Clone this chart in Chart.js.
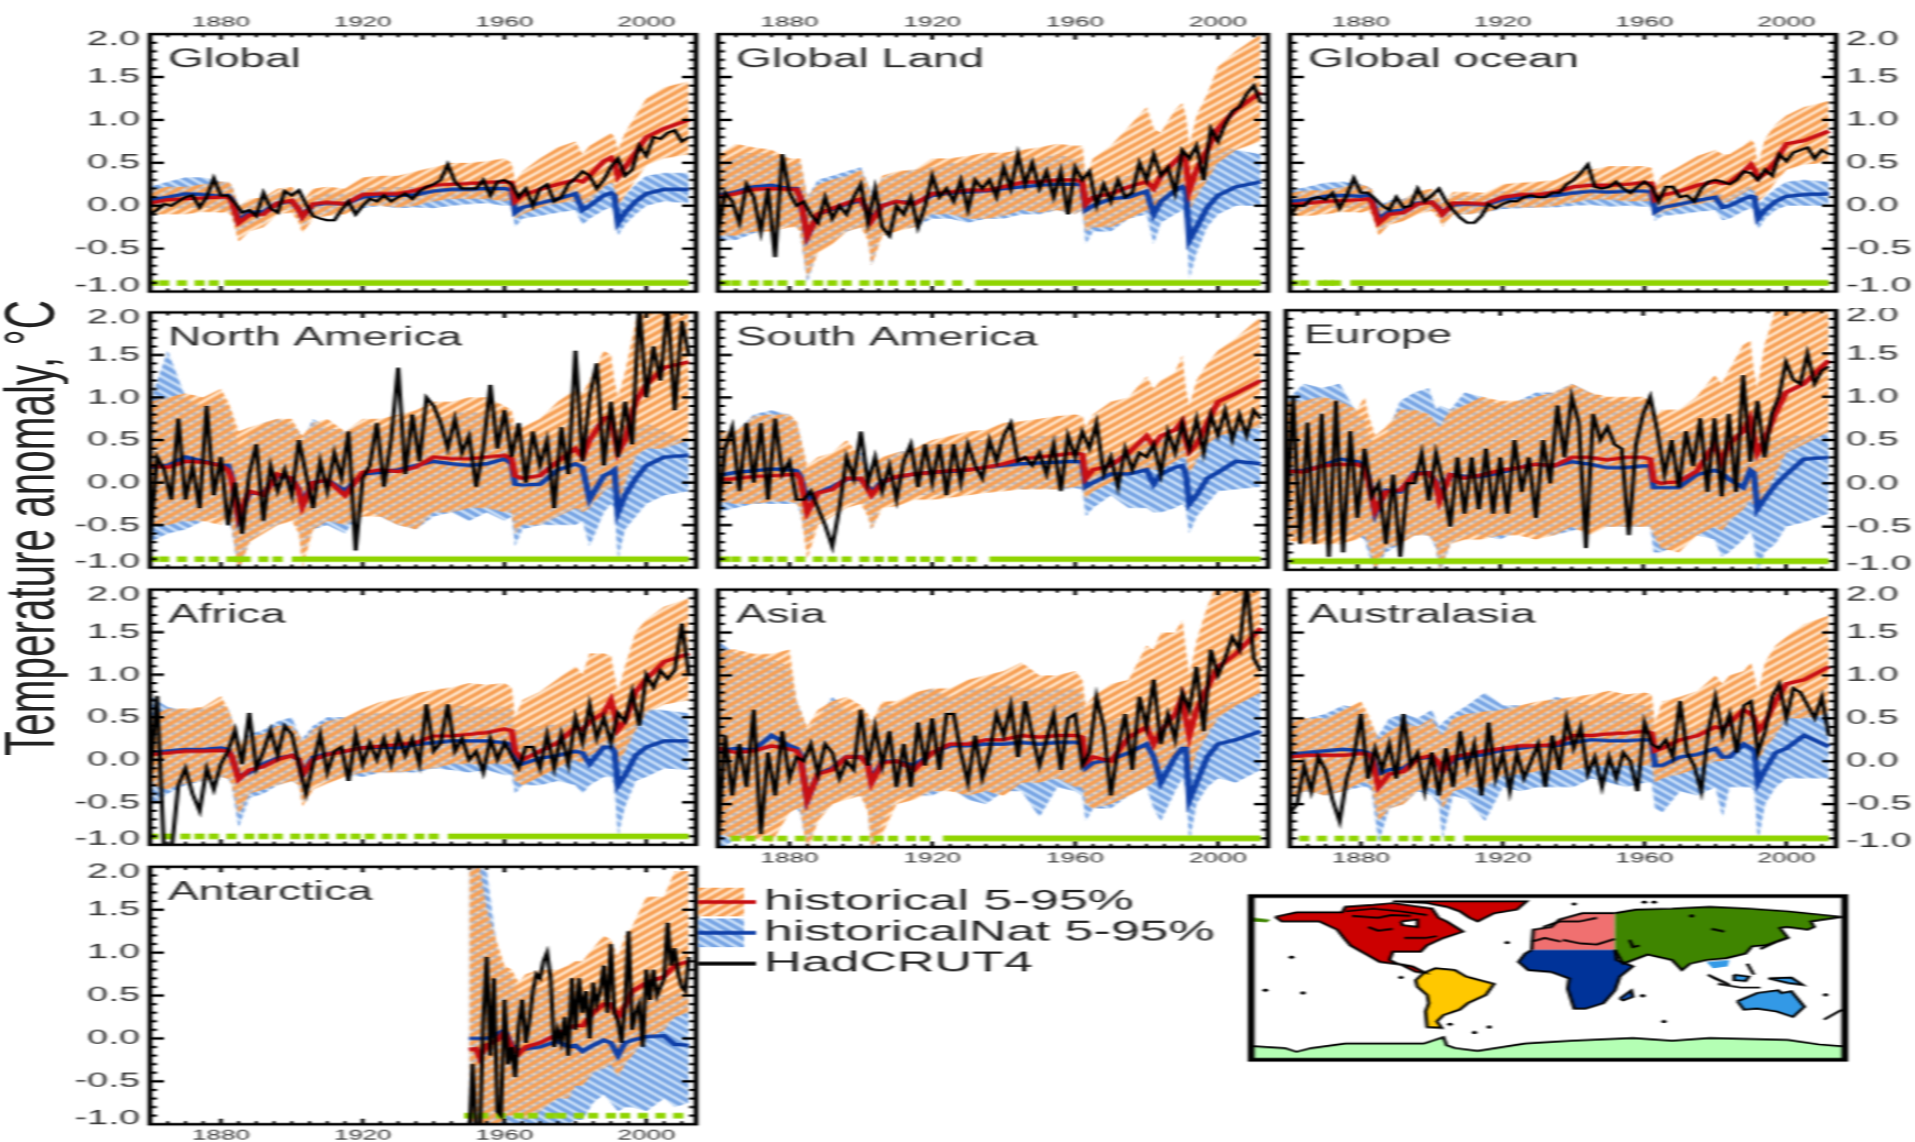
<!DOCTYPE html>
<html><head><meta charset="utf-8">
<script src="https://cdn.jsdelivr.net/npm/chart.js@4"></script>
<style>
html,body{margin:0;padding:0;background:#fff;overflow:hidden;width:1915px;height:1142px}
#stage{position:absolute;left:0;top:0;width:957.5px;height:1038.2px;transform:scale(2,1.1);transform-origin:0 0;filter:blur(.45px)}
#stage canvas{position:absolute}
#ytitle{position:absolute;left:-195.5px;top:459.5px;width:420px;height:40px;text-align:center;font:35px/40px "Liberation Sans",Arial,sans-serif;color:#222;transform:rotate(-90deg) scaleX(1.05);white-space:nowrap}
</style></head><body><div id="stage"><div id="ytitle">Temperature anomaly, °C</div></div>
<script>
// ---------- axis values
const xMajor=[1880,1920,1960,2000];
const xMinor=[1865,1870,1875,1885,1890,1895,1900,1905,1910,1915,1925,1930,1935,1940,1945,1950,1955,1965,1970,1975,1980,1985,1990,1995,2005,2010];
const yMajor=[-0.5,0,0.5,1,1.5];
const yMinor=[-0.9,-0.8,-0.7,-0.6,-0.4,-0.3,-0.2,-0.1,0.1,0.2,0.3,0.4,0.6,0.7,0.8,0.9,1.1,1.2,1.3,1.4,1.6,1.7,1.8,1.9];
const coverageLevel=-0.9;
// ---------- years of the model series and observations
const modelYears=[1860,1865,1870,1875,1880,1882,1883,1885,1888,1892,1896,1900,1902,1903,1906,1910,1915,1920,1925,1930,1935,1940,1945,1950,1955,1960,1962,1963,1965,1970,1975,1980,1982,1984,1988,1990,1991,1992,1994,1997,2000,2005,2012];
const obsYears=[1860,1862,1864,1866,1868,1870,1872,1874,1876,1878,1880,1882,1884,1886,1888,1890,1892,1894,1896,1898,1900,1902,1904,1906,1908,1910,1912,1914,1916,1918,1920,1922,1924,1926,1928,1930,1932,1934,1936,1938,1940,1942,1944,1946,1948,1950,1952,1954,1956,1958,1960,1962,1964,1966,1968,1970,1972,1974,1976,1978,1980,1982,1984,1986,1988,1990,1992,1994,1996,1998,2000,2002,2004,2006,2008,2010,2012];
const antModelYears=[1950,1952,1953,1955,1958,1960,1962,1964,1966,1970,1975,1978,1980,1982,1985,1988,1990,1992,1994,1996,2000,2005,2008,2012];
const antObsYears=[1950,1951,1952,1953,1954,1955,1956,1957,1958,1959,1960,1961,1962,1963,1964,1965,1966,1967,1968,1969,1970,1971,1972,1973,1974,1975,1976,1977,1978,1979,1980,1981,1982,1983,1984,1985,1986,1987,1988,1989,1990,1991,1992,1993,1994,1995,1996,1997,1998,1999,2000,2001,2002,2003,2004,2005,2006,2007,2008,2009,2010,2011,2012];
// ---------- Global
const globalHist=[.03,.07,.08,.09,.10,.10, .06,-.20,-.11,-.10,.03,.06,-.05,-.13,.02,.04, .02,.13,.14,.14,.18,.24,.25,.26,.27,.28, .27,.05,.12,.19,.25,.30, .28,.35,.52,.56,.50,.34,.45,.62,.80,.90,1.00];
const globalNat=[.07,.10,.14,.13,.11,.12, .08,-.17,-.08,-.07,.03,.05,-.04,-.12,.01,.03, .02,.10,.12,.12,.13,.17,.19,.19,.20,.20, .18,-.08,-.02,.03,.08,.14, -.05,.00,.12,.15,.12,-.20,-.08,.05,.14,.19,.19];
const globalHistLow=[-.10,-.10,-.10,-.07,-.08,-.08, -.12,-.42,-.30,-.25,-.10,-.08,-.20,-.32,-.15,-.12, -.10,.0,.0,-.02,.0,.05,.08,.08,.08,.05, .08,-.15,-.10,-.02,.03,.05, .02,.05,.22,.27,.20,.0,.12,.30,.47,.55,.60];
const globalHistHigh=[.18,.22,.22,.25,.28,.28, .24,0,.08,.10,.20,.22,.12,.05,.20,.22, .20,.33,.35,.35,.40,.45,.50,.50,.52,.55, .50,.28,.40,.55,.68,.75, .60,.70,.80,.85,.80,.65,.85,1.05,1.25,1.38,1.45];
const globalNatLow=[-.02,-.05,-.03,-.02,-.05,-.05, -.10,-.35,-.22,-.20,-.05,-.05,-.15,-.25,-.12,-.10, -.08,-.03,.0,-.03,-.02,-.03,.0,.02,.03,.0, .0,-.25,-.15,-.12,-.08,-.05, -.22,-.15,-.05,-.02,-.08,-.35,-.22,-.10,.0,.05,.03];
const globalNatHigh=[.22,.28,.33,.33,.28,.28, .24,.0,.05,.08,.15,.18,.10,.0,.12,.15, .14,.20,.22,.22,.22,.25,.28,.28,.30,.30, .28,.08,.12,.15,.18,.25, .12,.15,.25,.28,.25,-.02,.12,.25,.35,.38,.38];
const globalObs=[-.1,-.05,.02,.0,.05,.1,.12,-.02,.1,.32, .12,.12,.03,-.08,-.05,-.12,.15,-.03,-.08,.17, .12,.18,.02,-.12,-.15,-.17,-.17,-.05,.05,-.1, .0,.08,.05,.12,.05,.1,.14,.08,.17,.22, .25,.3,.48,.28,.2,.2,.2,.3,.12,.28, .3,.25,.1,.2,.0,.2,.25,.05,.1,.25, .32,.4,.35,.2,.3,.45,.55,.35,.42,.7, .58,.8,.78,.85,.88,.75,.8];
const globalCover=[1861,1864,1869,1874,1878];
// ---------- Global Land
const landHist=[.10,.14,.19,.20,.19,.19, .10,-.35,-.10,-.03,.03,.08,-.08,-.18,.0,.05, .02,.14,.16,.18,.18,.22,.27,.28,.30,.30, .28,.02,.10,.14,.22,.28, .20,.35,.52,.60,.50,.18,.42,.65,.90,1.12,1.32];
const landNat=[.12,.16,.22,.24,.20,.20, .10,-.36,-.10,-.04,.02,.06,-.06,-.16,.0,.05, .03,.12,.15,.16,.17,.20,.22,.24,.25,.25, .24,-.05,.0,.08,.10,.17, -.10,.05,.18,.22,.18,-.40,-.25,-.02,.12,.22,.28];
const landHistLow=[-.35,-.35,-.30,-.30,-.25,-.25, -.30,-.85,-.55,-.45,-.30,-.25,-.40,-.70,-.35,-.30, -.25,-.10,-.10,-.15,-.15,-.12,-.05,-.08,-.05,-.10, -.05,-.30,-.25,-.25,-.15,-.05, -.12,.0,.15,.20,.10,-.05,.10,.30,.50,.65,.75];
const landHistHigh=[.60,.72,.68,.65,.55,.55, .55,.10,.25,.30,.35,.42,.25,.10,.35,.40, .42,.55,.55,.58,.62,.62,.65,.68,.72,.70, .70,.35,.55,.70,.92,1.15, .90,.85,1.12,1.20,1.05,.70,1.05,1.30,1.62,1.80,2.0];
const landNatLow=[-.40,-.40,-.32,-.28,-.22,-.25, -.30,-.90,-.50,-.40,-.30,-.25,-.35,-.70,-.30,-.28, -.25,-.15,-.15,-.20,-.15,-.15,-.10,-.10,-.05,-.10, -.05,-.45,-.30,-.30,-.15,-.10, -.45,-.20,-.10,-.05,-.15,-.85,-.55,-.25,-.10,.0,.0];
const landNatHigh=[.50,.60,.62,.60,.50,.50, .50,.10,.30,.35,.40,.45,.25,.15,.32,.38, .42,.45,.50,.50,.55,.58,.55,.55,.60,.55, .55,.22,.25,.30,.35,.50, .25,.40,.50,.50,.50,.15,.30,.55,.70,.65,.60];
const landObs=[-.3,.15,.05,-.2,.25,.1,-.3,.2,-.6,.6, .15,.0,.05,-.1,-.2,.1,-.15,.0,-.1,.1, .25,-.2,.2,-.25,-.35,.0,-.1,.1,-.25,.0, .35,.1,.2,.05,.3,-.05,.3,.2,.3,.1, .45,.2,.6,.25,.5,.2,.4,.1,.4,-.1, .45,.3,.4,.0,.25,.05,.3,.1,.15,.5, .3,.6,.35,.45,.15,.65,.55,.7,.3,.9, .75,.95,1.1,1.15,1.3,1.4,1.2];
const landCover=[1862,1865,1870,1874,1878,1883,1888,1892,1896,1901,1905,1909,1914,1918,1922,1927];
// ---------- Global ocean
const oceanHist=[.01,.03,.05,.06,.07,.08, .05,-.20,-.10,-.08,.02,.04,-.04,-.10,.03,.03, .02,.10,.13,.13,.16,.22,.24,.24,.25,.27, .26,.07,.12,.17,.24,.28, .26,.27,.40,.48,.42,.32,.38,.52,.72,.76,.87];
const oceanNat=[.05,.07,.11,.12,.11,.12, .08,-.15,-.07,-.05,.03,.04,-.03,-.09,.01,.02, .01,.07,.10,.11,.12,.15,.17,.16,.17,.17, .16,-.07,-.02,.02,.06,.10, -.02,.0,.08,.11,.10,-.15,-.05,.05,.11,.13,.14];
const oceanHistLow=[-.12,-.12,-.10,-.07,-.08,-.06, -.10,-.35,-.22,-.18,-.10,-.06,-.15,-.25,-.10,-.10, -.08,-.02,-.02,-.02,.0,.04,.07,.07,.05,.05, .06,-.12,-.08,-.01,.02,.05, .03,.05,.15,.20,.15,.05,.12,.28,.42,.48,.50];
const oceanHistHigh=[.15,.18,.18,.22,.25,.22, .20,-.03,.04,.08,.17,.20,.10,.03,.16,.16, .15,.25,.27,.28,.30,.40,.42,.46,.46,.46, .44,.23,.35,.46,.58,.65, .60,.60,.70,.78,.72,.48,.78,.95,1.05,1.15,1.22];
const oceanNatLow=[-.05,-.08,-.03,-.03,-.03,-.02, -.05,-.30,-.20,-.15,-.06,-.05,-.12,-.22,-.10,-.10, -.08,-.04,-.03,-.02,-.02,.0,.01,-.01,.0,-.01, -.02,-.18,-.12,-.10,-.07,-.05, -.17,-.15,-.06,-.03,-.05,-.28,-.15,-.05,.0,.0,.0];
const oceanNatHigh=[.18,.22,.27,.28,.25,.22, .20,.0,.06,.08,.15,.15,.08,.03,.12,.12, .12,.17,.18,.20,.20,.25,.28,.26,.28,.28, .26,.08,.10,.14,.18,.22, .12,.12,.20,.24,.22,.0,.10,.20,.28,.30,.28];
const oceanObs=[-.12,.0,.0,.08,.1,.07,.15,-.03,.12,.32, .15,.15,.08,.0,-.05,.1,-.02,.0,.2,.05, .12,.2,.05,-.05,-.14,-.2,-.2,-.12,.02,-.03, .02,.05,.05,.1,.12,.1,.1,.15,.15,.25, .3,.38,.48,.22,.2,.22,.28,.2,.15,.22, .28,.22,.05,.22,.22,.1,.12,.05,.2,.28, .3,.28,.25,.3,.4,.38,.3,.42,.35,.6, .52,.62,.65,.68,.55,.65,.6];
const oceanCover=[1861,1864,1869,1871,1873];
// ---------- North America
const namHist=[.20,.18,.25,.24,.20,.15, .05,-.40,-.10,-.15,.10,.05,-.10,-.28,.0,.03, -.15,.12,.15,.13,.18,.30,.28,.28,.30,.32, .28,.08,.05,.08,.25,.40, .30,.50,.75,.78,.55,.35,.50,.95,1.15,1.35,1.42];
const namNat=[.18,.20,.30,.25,.20,.20, .08,-.42,-.12,-.13,.08,.05,-.08,-.25,.0,.03, -.10,.10,.12,.15,.20,.25,.22,.20,.22,.28, .22,-.02,-.03,-.02,.15,.22, .18,-.20,.08,.12,.15,-.35,-.15,.05,.20,.30,.32];
const namHistLow=[-.50,-.50,-.45,-.45,-.50,-.40, -.50,-1.05,-.70,-.60,-.50,-.45,-.60,-1.0,-.55,-.45, -.50,-.40,-.40,-.50,-.55,-.35,-.35,-.30,-.30,-.35, -.35,-.60,-.50,-.50,-.40,-.30, -.35,-.30,-.10,-.05,-.10,-.30,.0,.30,.40,.40,.50];
const namHistHigh=[.95,1.00,1.05,1.00,1.10,.95, .85,.60,.65,.70,.75,.75,.60,.55,.70,.75, .60,.75,.75,.80,.85,.95,.95,1.00,1.00,.90, .85,.65,.65,.75,.95,1.10, 1.05,1.20,1.55,1.50,1.20,1.00,1.30,1.90,2.10,2.20,2.20];
const namNatLow=[-.70,-.60,-.55,-.45,-.40,-.40, -.55,-1.05,-.70,-.55,-.50,-.40,-.55,-.85,-.55,-.50, -.60,-.30,-.40,-.50,-.55,-.40,-.35,-.45,-.35,-.45, -.40,-.75,-.55,-.50,-.50,-.50, -.45,-.75,-.35,-.25,-.30,-.90,-.55,-.40,-.25,-.15,-.10];
const namNatHigh=[.95,1.55,1.00,.90,1.00,.90, .80,.40,.55,.70,.75,.70,.60,.50,.75,.65, .60,.70,.65,.70,.75,.75,.80,.85,.80,.80, .75,.40,.50,.55,.55,.80, .60,.65,.75,.75,.70,.30,.50,.60,.70,.60,.50];
const namObs=[-.7,.3,.15,-.2,.75,-.2,.2,-.3,.9,-.15, .3,-.5,.0,-.6,.1,.45,-.45,.2,-.1,.15, -.15,.5,.1,-.3,.25,-.1,.35,.05,.6,-.8, .05,.2,.7,-.05,.5,1.35,.1,.8,.25,1.0, .9,.7,.4,.75,.35,.55,-.05,.4,1.15,.4, .85,.3,.7,.0,.6,.2,.5,-.3,.65,.1, 1.55,.25,1.0,1.4,.2,.95,.3,.95,.45,2.1, 1.0,1.6,1.2,2.1,.85,1.9,1.5];
const namCover=[1861,1864,1869,1874,1878,1883,1885,1887,1892,1896];
// ---------- South America
const samHist=[.03,.05,.07,.08,.09,.10, .05,-.35,-.12,-.08,.05,.05,-.08,-.15,.0,.07, .10,.12,.14,.15,.18,.22,.28,.30,.32,.35, .33,.05,.15,.20,.35,.55, .43,.55,.62,.72,.50,.36,.45,.70,.95,1.05,1.20];
const samNat=[.08,.12,.14,.16,.15,.14, .08,-.20,-.12,-.05,.04,.04,-.05,-.12,.02,.06, .10,.12,.13,.15,.18,.20,.22,.23,.24,.25, .24,-.05,.0,.10,.10,.15, -.02,.10,.18,.20,.10,-.25,-.15,.05,.12,.25,.22];
const samHistLow=[-.22,-.25,-.25,-.22,-.22,-.25, -.30,-.90,-.50,-.40,-.30,-.25,-.40,-.55,-.30,-.28, -.20,-.20,-.18,-.15,-.12,-.10,-.08,-.08,-.08,-.05, -.05,-.20,-.10,.0,.10,.15, .15,.15,.25,.30,.30,.10,.25,.45,.55,.60,.65];
const samHistHigh=[.60,.60,.78,.80,.80,.72, .55,.20,.30,.35,.50,.30,.10,.20,.30,.35, .40,.50,.55,.60,.62,.70,.72,.75,.78,.80, .78,.65,.80,.95,1.00,1.25, 1.10,1.20,1.30,1.50,1.10,.90,1.20,1.40,1.55,1.70,1.95];
const samNatLow=[-.35,-.30,-.25,-.25,-.25,-.25, -.35,-.75,-.45,-.35,-.25,-.22,-.35,-.55,-.25,-.22, -.15,-.15,-.12,-.08,-.10,-.08,-.08,-.07,-.08,-.07, -.08,-.40,-.30,-.15,-.30,-.30, -.35,-.35,-.30,-.25,-.30,-.60,-.40,-.25,-.10,-.08,-.05];
const samNatHigh=[.55,.60,.80,.85,.80,.70, .55,.10,.25,.30,.35,.35,.20,.10,.25,.35, .40,.45,.45,.50,.50,.52,.55,.55,.55,.55, .55,.30,.30,.35,.40,.50, .40,.50,.55,.55,.50,.15,.35,.50,.60,.65,.70];
const samObs=[-.4,.4,.65,-.1,.7,.0,.7,-.2,.75,.1, .25,-.2,-.2,-.1,-.3,-.5,-.75,-.3,.3,.05, .6,.0,.3,-.1,.2,-.2,.25,.45,-.05,.45, .0,.45,-.15,.45,.0,.45,.2,.05,.5,.25, .55,.7,.25,.3,.2,.35,.1,.45,-.1,.55, .3,.6,.4,.7,.1,.3,-.05,.4,.15,.35, .3,.45,.1,.6,.35,.7,.4,.75,.35,.8, .55,.85,.5,.8,.55,.85,.75];
const samCover=[1862,1865,1870,1874,1878,1883,1888,1892,1896,1901,1905,1909,1914,1918,1922,1927,1931];
// ---------- Europe
const eurHist=[.14,.13,.20,.22,.22,.18, .05,-.32,-.10,-.08,.10,.12,.0,-.20,.10,.06, .10,.15,.18,.22,.20,.30,.30,.27,.30,.30, .28,.03,.0,.02,.14,.45, .25,.45,.60,.75,.55,.35,.50,.80,1.05,1.15,1.42];
const eurNat=[.14,.15,.20,.28,.25,.18, .08,-.35,-.08,-.10,.12,.12,.02,-.18,.10,.08, .08,.12,.18,.22,.20,.25,.22,.18,.18,.20, .20,-.05,-.05,-.05,.10,.15, .12,.05,-.05,.15,.12,-.30,-.18,-.02,.10,.28,.30];
const eurHistLow=[-.65,-.70,-.70,-.70,-.65,-.60, -.70,-1.0,-.75,-.70,-.60,-.60,-.70,-1.0,-.70,-.65, -.65,-.60,-.60,-.65,-.60,-.50,-.60,-.50,-.50,-.50, -.50,-.60,-.75,-.80,-.60,-.50, -.55,-.45,-.30,-.20,-.25,-.35,-.15,.10,.35,.45,.60];
const eurHistHigh=[.95,.95,1.0,.95,.85,1.0, .80,.55,.65,.85,.85,.80,.70,.65,.85,.90, 1.0,.95,.95,1.00,1.05,1.15,1.05,1.00,1.0,1.00, .95,.75,.85,.85,1.0,1.25, 1.15,1.30,1.60,1.65,1.30,1.10,1.60,2.0,2.2,2.2,2.2];
const eurNatLow=[-.60,-.65,-.60,-.60,-.60,-.65, -.80,-1.0,-.80,-.70,-.60,-.60,-.75,-1.05,-.70,-.60, -.60,-.65,-.55,-.60,-.60,-.55,-.50,-.50,-.50,-.50, -.50,-.80,-.80,-.70,-.60,-.65, -.85,-.80,-.65,-.55,-.65,-1.05,-.80,-.70,-.50,-.45,-.35];
const eurNatHigh=[.95,1.15,1.10,1.15,.80,.75, .55,.45,.55,.95,1.05,1.10,.85,.90,.85,1.05, 1.0,.90,.95,1.05,1.05,1.15,1.05,.95,.95,.95, .90,.60,.60,.60,.60,.60, .55,.55,.55,.55,.55,.30,.45,.50,.55,.55,.60];
const eurObs=[-.5,1.0,-.7,.7,-.7,.8,-.85,.95,-.8,.6, -.4,.4,-.15,.0,-.7,.1,-.85,.0,.0,.35, -.2,.35,.0,-.5,.3,-.35,.3,-.3,.4,-.35, .3,-.35,.5,-.1,.3,-.4,.5,.0,.9,.3, 1.0,.7,-.75,.8,.5,.65,.45,.4,-.6,.45, .8,1.0,.6,.1,.5,-.05,.6,.2,.75,-.1, .75,-.15,.8,-.1,1.25,.25,.95,.3,.8,1.0, 1.4,1.2,1.15,1.5,1.15,1.3,1.35];
const eurCover=[];
// ---------- Africa
const afrHist=[.06,.08,.10,.10,.11,.10, .05,-.23,-.12,-.08,.0,.05,.0,-.18,.0,.06, .10,.14,.16,.18,.20,.28,.28,.30,.32,.36, .34,.10,.0,.10,.20,.38, .35,.45,.55,.70,.55,.35,.45,.80,.95,1.15,1.25];
const afrNat=[.08,.10,.12,.12,.14,.12, .04,-.20,-.15,-.05,.02,.05,.0,-.18,.03,.07, .10,.14,.15,.14,.18,.20,.22,.22,.22,.20, .18,.0,-.05,.02,.05,.10, .08,-.05,.15,.15,.10,-.30,-.18,.05,.15,.22,.22];
const afrHistLow=[-.30,-.35,-.28,-.25,-.20,-.22, -.28,-.65,-.40,-.35,-.30,-.25,-.30,-.55,-.35,-.28, -.20,-.15,-.15,-.15,-.12,-.10,-.05,-.05,-.05,-.05, -.05,-.25,-.30,-.20,-.10,.0, -.05,.05,.15,.25,.15,-.05,.10,.35,.55,.65,.70];
const afrHistHigh=[.50,.60,.60,.62,.75,.60, .50,.20,.28,.30,.40,.40,.30,.22,.35,.45, .50,.60,.68,.72,.78,.82,.85,.90,.88,.90, .85,.50,.70,.80,.95,1.10, 1.0,1.25,1.25,1.22,1.00,.80,1.10,1.50,1.65,1.80,1.90];
const afrNatLow=[-.55,-.40,-.30,-.25,-.20,-.22, -.30,-.80,-.45,-.40,-.30,-.25,-.30,-.50,-.30,-.25, -.18,-.20,-.15,-.15,-.15,-.10,-.12,-.15,-.12,-.18, -.18,-.40,-.30,-.30,-.25,-.30, -.40,-.30,-.20,-.20,-.30,-.90,-.55,-.25,-.20,-.10,-.12];
const afrNatHigh=[.75,.62,.58,.60,.65,.60, .50,.10,.30,.35,.45,.50,.30,.25,.40,.50, .50,.55,.55,.55,.60,.60,.65,.62,.62,.62, .60,.35,.35,.40,.42,.50, .45,.55,.55,.55,.50,.15,.35,.50,.60,.58,.55];
const afrObs=[-.2,.75,-1.1,-1.1,-.3,-.1,-.4,-.6,-.1,-.35, -.05,.1,.35,-.05,.55,-.1,.1,.35,.05,.4, .3,-.05,-.4,-.05,.3,-.15,.1,.15,-.25,.3, -.05,.2,.0,.25,-.05,.3,.05,.25,-.05,.65, .1,.2,.65,.1,.25,.0,.1,-.15,.25,.0, .2,.05,-.1,.15,.15,-.1,.3,-.1,.3,-.05, .5,.2,.65,.25,.5,.2,.55,.45,.8,.4, 1.0,.85,1.05,.95,1.05,1.6,1.0];
const afrCover=[1861,1865,1870,1874,1878,1883,1888,1892,1896,1901,1905,1909,1914,1918,1922,1927,1931,1936,1940];
// ---------- Asia
const asiHist=[.15,.10,.12,.18,.14,.12, .05,-.45,-.15,-.10,.05,.05,-.05,-.25,-.02,.0, -.10,.10,.20,.20,.25,.25,.30,.28,.30,.30, .28,-.02,.05,.0,.28,.40, .20,.35,.55,.75,.50,.30,.60,.85,1.10,1.25,1.55];
const asiNat=[.12,.15,.13,.30,.18,.15, .08,-.45,-.15,-.08,.05,.05,-.03,-.22,.0,.0, -.05,.10,.18,.18,.20,.20,.22,.20,.22,.22, .20,-.08,-.02,.02,.10,.20, .05,-.25,.05,.15,.15,-.45,-.25,.05,.20,.25,.35];
const asiHistLow=[-.85,-.90,-.90,-.95,-.60,-.55, -.55,-1.05,-.70,-.50,-.45,-.40,-.60,-1.05,-.85,-.50, -.45,-.35,-.35,-.40,-.35,-.40,-.25,-.25,-.20,-.30, -.30,-.50,-.55,-.50,-.40,-.30, -.25,-.10,.05,.15,.0,-.20,.10,.30,.50,.65,.80];
const asiHistHigh=[1.30,1.30,1.25,1.25,1.30,.70, .60,.40,.60,.70,.75,.65,.55,.45,.70,.70, .80,.85,.85,.95,1.00,1.05,1.15,1.00,1.00,1.05, .95,.65,.75,.90,.95,1.35, 1.30,1.50,1.50,1.65,1.30,1.00,1.40,1.80,2.10,2.20,2.20];
const asiNatLow=[-1.05,-.90,-.80,-.75,-.60,-.55, -.60,-1.0,-.65,-.50,-.40,-.40,-.55,-1.05,-.70,-.45, -.40,-.40,-.30,-.45,-.50,-.35,-.35,-.65,-.30,-.35, -.40,-.70,-.55,-.55,-.40,-.30, -.55,-.70,-.35,-.20,-.30,-.95,-.50,-.30,-.20,-.25,-.10];
const asiNatHigh=[1.40,1.25,1.20,1.20,1.10,.70, .60,.35,.50,.75,.60,.55,.50,.45,.65,.65, .75,.85,.75,.85,.85,.90,.85,.85,.85,.85, .80,.45,.45,.50,.50,.55, .45,.45,.55,.50,.50,.10,.35,.55,.65,.70,.80];
const asiObs=[-.9,.3,-.4,.2,-.3,.6,-.85,.1,-.4,.35, -.2,.05,.0,.2,-.15,.2,.1,-.2,.0,-.1, .6,-.05,.4,-.05,.35,-.3,.2,-.3,.45,-.05, .5,-.1,.55,.55,.1,-.25,.3,-.2,.1,.55, .3,.65,.05,.7,.3,-.05,.25,.55,-.1,.5, .55,-.05,.1,.75,.4,-.4,.15,.55,-.1,.75, .4,.95,.2,.55,.25,.8,.6,1.1,.35,1.3, 1.0,1.2,1.45,1.3,2.1,1.2,1.05];
const asiCover=[1865,1869,1874,1878,1883,1888,1892,1896,1901,1905,1909,1914,1918];
// ---------- Australasia
const ausHist=[.05,.07,.07,.07,.09,.08, .05,-.30,-.15,-.12,.03,.07,-.02,-.12,.05,.08, .12,.15,.18,.18,.20,.30,.30,.32,.33,.35, .33,.12,.15,.25,.30,.40, .38,.45,.60,.55,.50,.35,.45,.70,.90,.95,1.10];
const ausNat=[.08,.10,.12,.14,.12,.10, .05,-.15,-.10,-.08,.03,.05,-.02,-.12,.02,.05, .08,.13,.15,.18,.18,.22,.25,.24,.24,.25, .24,-.05,-.05,.05,.08,.15, .05,.05,.20,.15,.12,-.25,-.10,.10,.15,.30,.17];
const ausHistLow=[-.40,-.35,-.40,-.35,-.25,-.25, -.30,-.70,-.55,-.50,-.35,-.30,-.35,-.55,-.35,-.30, -.30,-.18,-.15,-.12,-.10,-.10,-.05,-.05,-.05,-.05, -.05,-.25,-.20,-.15,-.08,.0, .0,.05,.20,.20,.15,.0,.15,.30,.50,.50,.55];
const ausHistHigh=[.48,.50,.50,.60,.70,.55, .45,.25,.35,.45,.40,.50,.35,.30,.50,.55, .58,.60,.65,.70,.72,.75,.78,.82,.78,.80, .78,.45,.70,.75,.82,1.00, .90,1.00,1.05,1.15,1.00,.80,1.15,1.35,1.45,1.60,1.70];
const ausNatLow=[-.40,-.35,-.40,-.35,-.30,-.30, -.35,-.95,-.55,-.50,-.35,-.40,-.50,-.90,-.40,-.45, -.70,-.30,-.35,-.30,-.30,-.30,-.20,-.25,-.30,-.25, -.25,-.55,-.60,-.35,-.40,-.30, -.65,-.30,-.30,-.30,-.35,-.95,-.50,-.30,-.20,-.20,-.20];
const ausNatHigh=[.48,.50,.55,.65,.62,.50, .40,.30,.50,.55,.50,.60,.40,.45,.55,.65, .80,.65,.65,.65,.75,.70,.65,.68,.70,.65, .60,.30,.35,.38,.40,.50, .45,.50,.55,.50,.50,.10,.30,.50,.65,.62,.60];
const ausObs=[-.6,-.5,-.05,-.35,.05,-.1,-.45,-.7,-.2,.05, .55,-.2,.15,-.1,.2,-.2,.55,-.05,.1,-.35, .1,-.4,.15,-.3,.35,-.1,.2,-.4,.45,-.2, .1,-.35,.1,-.2,.0,.2,-.3,.3,-.1,.5, .15,.4,-.15,.05,-.3,.05,-.2,.1,.0,-.35, .45,.2,.15,.25,.05,.7,.1,-.05,-.35,.35, .75,.3,.55,.1,.65,.7,.1,.35,.75,.9, .5,.85,.8,.65,.5,.75,.3];
const ausCover=[1864,1869,1874,1878,1883,1887,1892,1896,1901,1905];
// ---------- Antarctica
const antHist=[-.13,-.12,-.22,-.08,-.02,.08,-.10,-.18,-.10,-.05,.05,.12,.15,.15,.30,.40,.40,.25,.38,.55,.65,.72,.85,.90];
const antNat=[.0,.0,.0,.0,.05,.10,-.08,-.15,-.12,-.10,-.03,-.10,-.08,-.15,-.08,-.02,-.05,-.20,-.05,-.02,.02,.03,-.07,-.08];
const antHistLow=[-1.1,-1.1,-1.1,-1.1,-1.1,-.9,-.9,-.9,-.95,-.85,-.7,-.7,-.55,-.55,-.40,-.35,-.30,-.45,-.30,-.20,.0,.10,.25,.30];
const antHistHigh=[2.0,2.0,2.0,1.5,1.1,.85,.80,.65,.75,.80,.80,.85,.90,.90,1.05,1.20,1.15,.95,1.20,1.30,1.65,1.65,1.95,1.95];
const antNatLow=[-1.1,-1.1,-1.1,-1.1,-1.1,-1.1,-1.0,-1.1,-1.1,-1.1,-1.0,-1.0,-.95,-.95,-.75,-.65,-.75,-.85,-.80,-.8,-.85,-.7,-.8,-.75];
const antNatHigh=[2.0,2.0,2.0,1.95,1.0,.80,.75,.50,.55,.60,.55,.55,.55,.50,.50,.45,.45,.25,.40,.50,.55,.50,.55,.50];
const antObs=[-1.2,-.3,-1.1,-1.2,.2,.95,-.2,.7,-.85,-.9, .45,-.3,-.1,-.45,.15,.45,-.05,.2,.55,.75, .7,.9,1.0,.7,-.1,.1,-.05,.25,-.2,.7, .1,.7,.3,.55,.0,.65,.4,.55,.85,.3, 1.1,.3,.2,-.05,.4,1.25,.1,.3,.4,-.1, .8,.45,.8,.5,.6,.7,1.35,.85,1.05,.75, .6,.55,.95];
const antCover=[1950,1954,1959,1964,1968,1973,1976,1981,1985,1990,1994,1999,2004,2009];
// ---------- legend texts
const legendLabels=["historical 5-95%","historicalNat 5-95%","HadCRUT4"];
// ---------- world map outlines, [longitude, latitude]
const mapNorthAmerica=[[-167,71],[-154,76],[-126,76],[-124,82],[-107,84],[-95,86],[-71,80],[-67,70],[-62,66],[-52,55],[-64,48],[-74,40],[-78,33],[-84,33],[-95,33],[-97,24],[-92,20],[-83,17],[-75,10],[-81,11],[-90,19],[-103,22],[-112,31],[-121,40],[-125,48],[-129,57],[-140,66],[-154,66],[-163,66],[-167,71]];
const mapGreenland=[[-95,88],[-13,88],[-19,79],[-33,75],[-43,66],[-48,70],[-54,77],[-62,82],[-74,86],[-95,88]];
const mapHudson=[[-90,66],[-80,68],[-80,60],[-89,62],[-90,66]];
const mapSouthAmerica=[[-76,10],[-69,15],[-57,13],[-50,6],[-33,-2],[-38,-14],[-49,-23],[-54,-30],[-64,-36],[-68,-43],[-65,-50],[-74,-49],[-75,-32],[-73,-23],[-74,-14],[-80,-5],[-81,2],[-76,10]];
const mapEurope=[[-10,35],[-9,57],[2,60],[7,68],[21,75],[41,75],[41,35]];
const mapAfrica=[[41,35],[42,24],[52,17],[44,6],[41,-9],[34,-23],[23,-29],[16,-29],[12,-7],[13,4],[2,11],[-12,13],[-18,22],[-14,31],[-10,35]];
const mapMadagascar=[[44,-18],[51,-9],[52,-16],[46,-20],[44,-18]];
const mapAsia=[[41,75],[54,79],[76,80],[99,82],[123,80],[147,77],[180,71],[161,66],[163,60],[159,57],[146,60],[142,59],[147,48],[133,40],[125,39],[121,31],[109,26],[97,24],[87,20],[82,13],[76,24],[61,30],[46,20],[41,35]];
const mapChukotka=[[-180,66],[-172,65],[-170,68],[-180,70],[-180,66]];
const mapIndochina=[[97,22],[111,24],[110,17],[101,15],[97,22]];
const mapSumatra=[[98,8],[109,-1],[111,-3],[102,4],[98,8]];
const mapBorneo=[[114,8],[123,6],[121,1],[114,2],[114,8]];
const mapNewGuinea=[[135,4],[149,5],[156,-3],[147,-1],[135,4]];
const mapAustralia=[[116,-21],[128,-12],[141,-9],[143,-12],[149,-10],[157,-27],[150,-38],[140,-32],[128,-29],[120,-30],[116,-21]];
const mapAntarctica=[[-180,-70],[-161,-72],[-154,-76],[-145,-72],[-124,-67],[-97,-67],[-76,-67],[-64,-60],[-62,-69],[-57,-72],[-43,-75],[-14,-67],[14,-64],[52,-61],[76,-64],[99,-61],[147,-63],[166,-68],[180,-70],[180,-83],[-180,-83]];
const mapArctic=[[-124,77],[-107,80],[-90,77],[-74,73]];
const mapCanada=[[-88,48],[-75,48],[-68,50]];
const mapCanada2=[[-110,60],[-104,56],[-95,58]];
const mapCanada3=[[-120,72],[-104,70],[-96,73],[-84,72]];
const mapMediterranean=[[9,46],[20,42],[30,41],[41,47]];
const mapBaltic=[[-3,60],[7,66],[19,66],[30,70]];
const mapIberia=[[-10,44],[-2,48],[8,44]];
const mapCaspian=[[50,46],[52,38],[56,40]];
const mapBaikal=[[100,58],[108,55]];
const mapJapan=[[130,36],[140,44],[146,48]];
const mapPhilippines=[[122,20],[126,8]];
const mapJava=[[104,-2],[118,-6],[130,-6]];
const mapNewZealand=[[169,-41],[180,-30]];
const mapIslands=[[-25,43],[-157,27],[-90,5],[-173,-9],[-150,-12],[-60,-46],[-36,-49],[-45,-55],[58,-15],[71,-43],[170,-14],[16,85],[59,87],[65,87],[88,72]];

// ---------- hatch patterns
function hatch(base,stripe,dir){
  const t=7,c=document.createElement('canvas');c.width=t;c.height=t;
  const g=c.getContext('2d');g.fillStyle=base;g.fillRect(0,0,t,t);
  g.strokeStyle=stripe;g.lineWidth=2.8;g.lineCap='square';
  for(let k=-t;k<=2*t;k+=t){g.beginPath();
    if(dir>0){g.moveTo(k,t);g.lineTo(k+t,0);}else{g.moveTo(k,0);g.lineTo(k+t,t);}
    g.stroke();}
  return g.createPattern(c,'repeat');
}
const orangeHatch=hatch('rgba(253,200,150,.55)','rgb(247,160,85)',1);
const blueHatch=hatch('rgba(185,212,245,.8)','rgb(120,165,228)',-1);
const RED='#c80f14',BLUE='#1040a8',GREEN='#8fd400';

function series(xs,ys,extra){return Object.assign({data:xs.map((x,i)=>({x,y:ys[i]})),pointRadius:0,borderWidth:0,tension:0,parsing:false},extra);}

const stage=document.getElementById('stage');
const colLeft=[74.5,356.5,642.5],colW=[275,279,275];
const rowTop=[30.9,281.8,533.6,785.5],rowH=236;

const panels=[
 {name:'Global',c:0,r:0,h:globalHist,n:globalNat,hl:globalHistLow,hh:globalHistHigh,nl:globalNatLow,nh:globalNatHigh,o:globalObs,cov:globalCover,from:1881},
 {name:'Global Land',c:1,r:0,h:landHist,n:landNat,hl:landHistLow,hh:landHistHigh,nl:landNatLow,nh:landNatHigh,o:landObs,cov:landCover,from:1932},
 {name:'Global ocean',c:2,r:0,h:oceanHist,n:oceanNat,hl:oceanHistLow,hh:oceanHistHigh,nl:oceanNatLow,nh:oceanNatHigh,o:oceanObs,cov:oceanCover,from:1877},
 {name:'North America',c:0,r:1,h:namHist,n:namNat,hl:namHistLow,hh:namHistHigh,nl:namNatLow,nh:namNatHigh,o:namObs,cov:namCover,from:1900},
 {name:'South America',c:1,r:1,h:samHist,n:samNat,hl:samHistLow,hh:samHistHigh,nl:samNatLow,nh:samNatHigh,o:samObs,cov:samCover,from:1936},
 {name:'Europe',c:2,r:1,h:eurHist,n:eurNat,hl:eurHistLow,hh:eurHistHigh,nl:eurNatLow,nh:eurNatHigh,o:eurObs,cov:eurCover,from:1861},
 {name:'Africa',c:0,r:2,h:afrHist,n:afrNat,hl:afrHistLow,hh:afrHistHigh,nl:afrNatLow,nh:afrNatHigh,o:afrObs,cov:afrCover,from:1944},
 {name:'Asia',c:1,r:2,h:asiHist,n:asiNat,hl:asiHistLow,hh:asiHistHigh,nl:asiNatLow,nh:asiNatHigh,o:asiObs,cov:asiCover,from:1923},
 {name:'Australasia',c:2,r:2,h:ausHist,n:ausNat,hl:ausHistLow,hh:ausHistHigh,nl:ausNatLow,nh:ausNatHigh,o:ausObs,cov:ausCover,from:1909},
 {name:'Antarctica',c:0,r:3,h:antHist,n:antNat,hl:antHistLow,hh:antHistHigh,nl:antNatLow,nh:antNatHigh,o:antObs,cov:antCover,from:null,ant:true}
];

const panelPlugin={id:'panelDecor',
 beforeDraw(chart){
  const it=chart.scales.y.getLabelItems();
  if(!it.shifted){it.shifted=true;for(const l of it){
    if(l.label==='2.0')l.options.translation[1]+=4.5;
    if(l.label==='-1.0')l.options.translation[1]-=5.5;}}
 },
 afterDraw(chart){
  const a=chart.chartArea,g=chart.ctx,xs=chart.scales.x,ys=chart.scales.y;
  g.save();g.strokeStyle='#000';g.lineCap='butt';
  const tick=(x1,y1,x2,y2)=>{g.beginPath();g.moveTo(x1,y1);g.lineTo(x2,y2);g.stroke();};
  g.lineWidth=2;
  for(const v of yMinor){const p=ys.getPixelForValue(v);tick(a.left,p,a.left+3.5,p);tick(a.right,p,a.right-3.5,p);}
  g.lineWidth=1.5;
  for(const v of xMinor){const p=xs.getPixelForValue(v);tick(p,a.top,p,a.top+2.8);tick(p,a.bottom,p,a.bottom-2.8);}
  g.lineWidth=2.3;
  for(const v of yMajor){const p=ys.getPixelForValue(v);tick(a.left,p,a.left+7,p);tick(a.right,p,a.right-7,p);}
  g.lineWidth=1.8;
  for(const v of xMajor){const p=xs.getPixelForValue(v);tick(p,a.top,p,a.top+5);tick(p,a.bottom,p,a.bottom-5);}
  g.lineWidth=2.4;g.strokeRect(a.left,a.top,a.right-a.left,a.bottom-a.top);
  g.fillStyle='#2a2a2a';g.font='23px "Liberation Sans",Arial,sans-serif';g.textBaseline='middle';g.textAlign='left';
  g.fillText(chart.options.plugins.panelDecor.label,a.left+9,a.top+24);
  g.restore();
 }
};
const noPad=s=>{s.paddingTop=s.paddingBottom=s.paddingLeft=s.paddingRight=0;};

for(const p of panels){
  const mx=p.ant?antModelYears:modelYears, ox=p.ant?antObsYears:obsYears;
  const left=p.c===0, right=p.c===2, topLabels=p.r===0;
  const bottomLabels=p.r===3||(p.r===2&&p.c>0);
  const mL=left?74:2, mR=right?39:2, mT=topLabels?30:2, mB=bottomLabels?19:2;
  const cv=document.createElement('canvas');
  cv.width=mL+colW[p.c]+mR;cv.height=mT+rowH+mB;
  cv.style.left=(colLeft[p.c]-mL)+'px';cv.style.top=(rowTop[p.r]-mT)+'px';
  stage.appendChild(cv);
  const datasets=[
    series(mx,p.nh,{label:'nat high',fill:'+1',backgroundColor:blueHatch,order:6}),
    series(mx,p.nl,{label:'nat low',order:6}),
    series(mx,p.hh,{label:'hist high',fill:'+1',backgroundColor:orangeHatch,order:5}),
    series(mx,p.hl,{label:'hist low',order:5}),
    series(mx,p.n,{label:'historicalNat',borderColor:BLUE,borderWidth:3.2,order:4}),
    series(mx,p.h,{label:'historical',borderColor:RED,borderWidth:3.2,order:3}),
    series(ox,p.o,{label:'HadCRUT4',borderColor:'#000',borderWidth:2,order:1}),
    {label:'coverage',data:p.cov.map(x=>({x,y:coverageLevel})),showLine:false,pointStyle:'rect',pointRadius:3.6,pointBackgroundColor:GREEN,pointBorderWidth:0,parsing:false,order:2}
  ];
  if(p.from!==null)datasets.push({label:'coverage full',data:[{x:p.from,y:coverageLevel},{x:2012,y:coverageLevel}],borderColor:GREEN,borderWidth:5.2,pointRadius:0,parsing:false,order:2});
  new Chart(cv,{type:'line',data:{datasets},plugins:[panelPlugin],options:{
    responsive:false,animation:false,devicePixelRatio:1,
    layout:{padding:{left:right?mL:0,right:right?0:mR,top:topLabels?0:mT,bottom:bottomLabels?0:mB}},
    plugins:{legend:{display:false},tooltip:{enabled:false},panelDecor:{label:p.name}},
    scales:{
      x:{type:'linear',position:topLabels?'top':'bottom',min:1860,max:2014,grid:{display:false,drawTicks:false},border:{display:false},
        ticks:{display:topLabels||bottomLabels,autoSkip:false,maxRotation:0,padding:4,color:'#333',font:{size:13,family:'"Liberation Sans",Arial,sans-serif',lineHeight:1},callback:v=>String(v)},
        afterBuildTicks:s=>{s.ticks=xMajor.map(value=>({value}));},
        afterFit:s=>{s.height=topLabels?mT:(bottomLabels?mB:0.001);noPad(s);}},
      y:{type:'linear',position:right?'right':'left',min:-1,max:2,grid:{display:false,drawTicks:false},border:{display:false},
        ticks:{display:left||right,stepSize:.5,padding:5,color:'#333',font:{size:19,family:'"Liberation Sans",Arial,sans-serif'},callback:v=>v.toFixed(1)},
        afterFit:s=>{s.width=left?mL:(right?mR:0.001);noPad(s);}}
    }}});
}

// ---------- legend
function swatch(patch,line){
  const c=document.createElement('canvas');c.width=47;c.height=28;const g=c.getContext('2d');
  if(patch){g.fillStyle=patch;g.fillRect(18,1,23,26);}
  g.strokeStyle=line;g.lineWidth=3.4;g.beginPath();g.moveTo(18,14);g.lineTo(47,14);g.stroke();
  return c;
}
const legendCanvas=document.createElement('canvas');
legendCanvas.width=300;legendCanvas.height=92;
legendCanvas.style.left='338px';legendCanvas.style.top='804.5px';
stage.appendChild(legendCanvas);
const legendStyles=[swatch(orangeHatch,RED),swatch(blueHatch,BLUE),swatch(null,'#000')];
new Chart(legendCanvas,{type:'line',data:{datasets:legendLabels.map(label=>({label,data:[]}))},options:{
  responsive:false,animation:false,devicePixelRatio:1,
  scales:{x:{display:false},y:{display:false}},
  plugins:{tooltip:{enabled:false},legend:{display:true,position:'left',align:'start',maxWidth:300,
    labels:{usePointStyle:true,pointStyleWidth:29,boxHeight:26,padding:2,color:'#222',
      font:{size:26,family:'"Liberation Sans",Arial,sans-serif',lineHeight:1},
      generateLabels:ch=>ch.data.datasets.map((d,i)=>({text:d.label,pointStyle:legendStyles[i],datasetIndex:i,lineWidth:0,fontColor:'#222',hidden:false}))}}}
}});

// ---------- map
const fillShapes=[[mapAntarctica,'#b4ffb4'],[mapNorthAmerica,'#cc0000'],[mapGreenland,'#cc0000'],[mapHudson,'#ffffff'],[mapSouthAmerica,'#ffc800'],[mapEurope,'#f07070'],[mapAfrica,'#003399'],[mapMadagascar,'#1a5fc8'],[mapAsia,'#3f8500'],[mapChukotka,'#3f8500'],[mapIndochina,'#3399e6'],[mapSumatra,'#3399e6'],[mapBorneo,'#3399e6'],[mapNewGuinea,'#3399e6'],[mapAustralia,'#3399e6']];
const coasts=[mapAntarctica.slice(0,-2),mapNorthAmerica,mapGreenland,mapHudson,mapSouthAmerica,mapEurope.slice(0,-1),mapAfrica,mapMadagascar,mapAsia,mapSumatra,mapBorneo,mapNewGuinea,mapAustralia,mapArctic,mapCanada,mapCanada2,mapCanada3,mapMediterranean,mapBaltic,mapIberia,mapCaspian,mapBaikal,mapJapan,mapPhilippines,mapJava,mapNewZealand];
const pts=a=>a.map(([x,y])=>({x,y}));
const mapData=[];
coasts.forEach(a=>mapData.push({data:pts(a),showLine:true,borderColor:'#000',borderWidth:1.7,pointRadius:0,parsing:false,order:1}));
mapData.push({data:pts(mapIslands),showLine:false,pointRadius:1.4,pointBackgroundColor:'#000',pointBorderWidth:0,parsing:false,order:1});
fillShapes.forEach(([a,c],i)=>mapData.push({data:pts(a),showLine:true,fill:'shape',backgroundColor:c,borderWidth:0,pointRadius:0,parsing:false,order:20-i}));
const mapCanvas=document.createElement('canvas');
mapCanvas.width=302;mapCanvas.height=154;
mapCanvas.style.left=(626.75-4)+'px';mapCanvas.style.top=(816.4-4)+'px';
stage.appendChild(mapCanvas);
new Chart(mapCanvas,{type:'scatter',data:{datasets:mapData},plugins:[{id:'mapFrame',afterDraw(ch){const a=ch.chartArea,g=ch.ctx;g.save();g.strokeStyle='#000';g.lineWidth=3.4;g.strokeRect(a.left-1.4,a.top-1.4,a.right-a.left+2.8,a.bottom-a.top+2.8);g.restore();}}],options:{
  responsive:false,animation:false,devicePixelRatio:1,layout:{padding:4},
  plugins:{legend:{display:false},tooltip:{enabled:false}},
  scales:{x:{type:'linear',display:false,min:-180,max:180},y:{type:'linear',display:false,min:-83,max:92}}
}});
</script></body></html>
